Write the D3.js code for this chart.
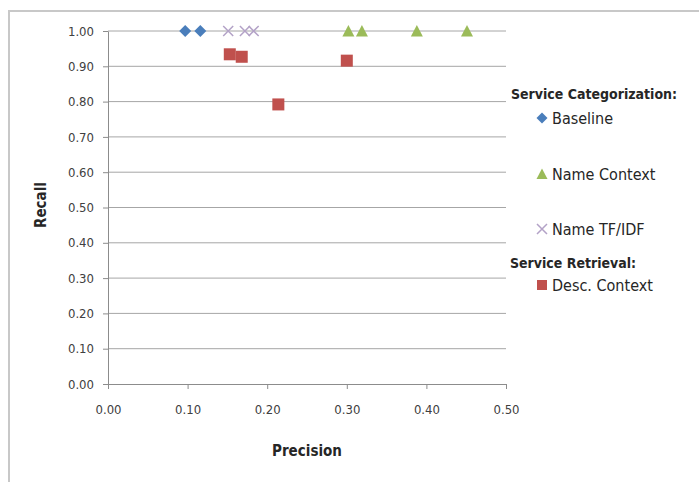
<!DOCTYPE html>
<html><head><meta charset="utf-8">
<script src="https://cdn.jsdelivr.net/npm/d3@7"></script>
<style>body{margin:0;background:#fff}svg{display:block}</style>
</head><body>
<script>
const xTicks = [0, 0.1, 0.2, 0.3, 0.4, 0.5];
const yTicks = [0, 0.1, 0.2, 0.3, 0.4, 0.5, 0.6, 0.7, 0.8, 0.9, 1.0];
const baselinePrecision = [0.097, 0.116];
const baselineRecall = [1.0, 1.0];
const nameContextPrecision = [0.302, 0.319, 0.388, 0.451];
const nameContextRecall = [1.0, 1.0, 1.0, 1.0];
const tfidfPrecision = [0.151, 0.172, 0.183];
const tfidfRecall = [1.0, 1.0, 1.0];
const descPrecision = [0.153, 0.168, 0.300, 0.214];
const descRecall = [0.934, 0.927, 0.916, 0.792];

const W = 699, H = 482;
const svg = d3.select("body").append("svg").attr("width", W).attr("height", H);
const font = "'DejaVu Sans Condensed', 'Liberation Sans Narrow', sans-serif";

svg.append("path").attr("d", `M9,482 V11 H699`).attr("fill","none").attr("stroke","#c8c8c8").attr("stroke-width",2);

const x = d3.scaleLinear().domain([0,0.5]).range([108,506]);
const y = d3.scaleLinear().domain([0,1]).range([384,31]);

svg.append("g").selectAll("line").data(yTicks.filter(d=>d>0)).join("line")
  .attr("x1", x(0)).attr("x2", x(0.5)).attr("y1", d=>y(d)).attr("y2", d=>y(d))
  .attr("stroke","#a6a6a6").attr("stroke-width",1);

const yAxis = svg.append("g").attr("transform",`translate(${x(0)},0)`)
  .call(d3.axisLeft(y).tickValues(yTicks).tickFormat(d3.format(".2f")).tickSize(5).tickSizeOuter(0));
const xAxis = svg.append("g").attr("transform",`translate(0,${y(0)})`)
  .call(d3.axisBottom(x).tickValues(xTicks).tickFormat(d3.format(".2f")).tickSize(5).tickSizeOuter(0));
[yAxis, xAxis].forEach(g=>{
  g.selectAll("path,line").attr("stroke","#8c8c8c");
  g.selectAll("text").attr("font-family",font).attr("font-size",13).attr("fill","#404040");
});
yAxis.selectAll("text").attr("x",-14);
xAxis.selectAll("text").attr("y",21).attr("dy","0.71em");

svg.append("text").attr("x",307).attr("y",456).attr("text-anchor","middle")
  .attr("font-family",font).attr("font-weight","bold").attr("font-size",15).attr("fill","#262626").text("Precision");
svg.append("text").attr("transform","translate(46,205) rotate(-90)").attr("text-anchor","middle")
  .attr("font-family",font).attr("font-weight","bold").attr("font-size",15).attr("fill","#262626").text("Recall");

const diamond = s => `M0,${-s}L${s},0L0,${s}L${-s},0Z`;
const tri = s => `M0,${-s}L${s},${s*0.9}L${-s},${s*0.9}Z`;
const xPath = s => `M${-s},${-s}L${s},${s}M${-s},${s}L${s},${-s}`;

function series(px, py, draw) {
  const g = svg.append("g");
  px.forEach((p,i)=> draw(g.append("g").attr("transform",`translate(${x(p)},${y(py[i])})`)));
}
const drawDiamond = g => g.append("path").attr("d", diamond(6)).attr("fill","#4a7ebb");
const drawTri = g => g.append("path").attr("d", tri(6)).attr("fill","#9bbb59");
const drawX = g => g.append("path").attr("d", xPath(5)).attr("stroke","#b3a2c7").attr("stroke-width",1.5).attr("fill","none");
const drawSq = g => g.append("rect").attr("x",-6).attr("y",-6).attr("width",12).attr("height",12).attr("fill","#c0504d");

series(baselinePrecision, baselineRecall, drawDiamond);
series(tfidfPrecision, tfidfRecall, drawX);
series(nameContextPrecision, nameContextRecall, drawTri);
series(descPrecision, descRecall, drawSq);

const lg = svg.append("g");
const head = (t, yy, xx) => lg.append("text").attr("x",xx).attr("y",yy).attr("font-family",font)
  .attr("font-weight","bold").attr("font-size",14).attr("fill","#262626").text(t);
const item = (t, yy, draw) => {
  draw(lg.append("g").attr("transform",`translate(542,${yy})`));
  lg.append("text").attr("x",552).attr("y",yy).attr("dy","0.36em").attr("font-family",font)
    .attr("font-size",16).attr("fill","#262626").text(t);
};
head("Service Categorization:", 99, 511);
item("Baseline", 118, g=>g.append("path").attr("d", diamond(5.5)).attr("fill","#4a7ebb"));
item("Name Context", 174, g=>g.append("path").attr("d", tri(5.5)).attr("fill","#9bbb59"));
item("Name TF/IDF", 229, g=>g.append("path").attr("d", xPath(5)).attr("stroke","#b3a2c7").attr("stroke-width",1.5));
head("Service Retrieval:", 268, 510);
item("Desc. Context", 285, g=>g.append("rect").attr("x",-5).attr("y",-5).attr("width",10).attr("height",10).attr("fill","#c0504d"));
</script>
</body></html>
